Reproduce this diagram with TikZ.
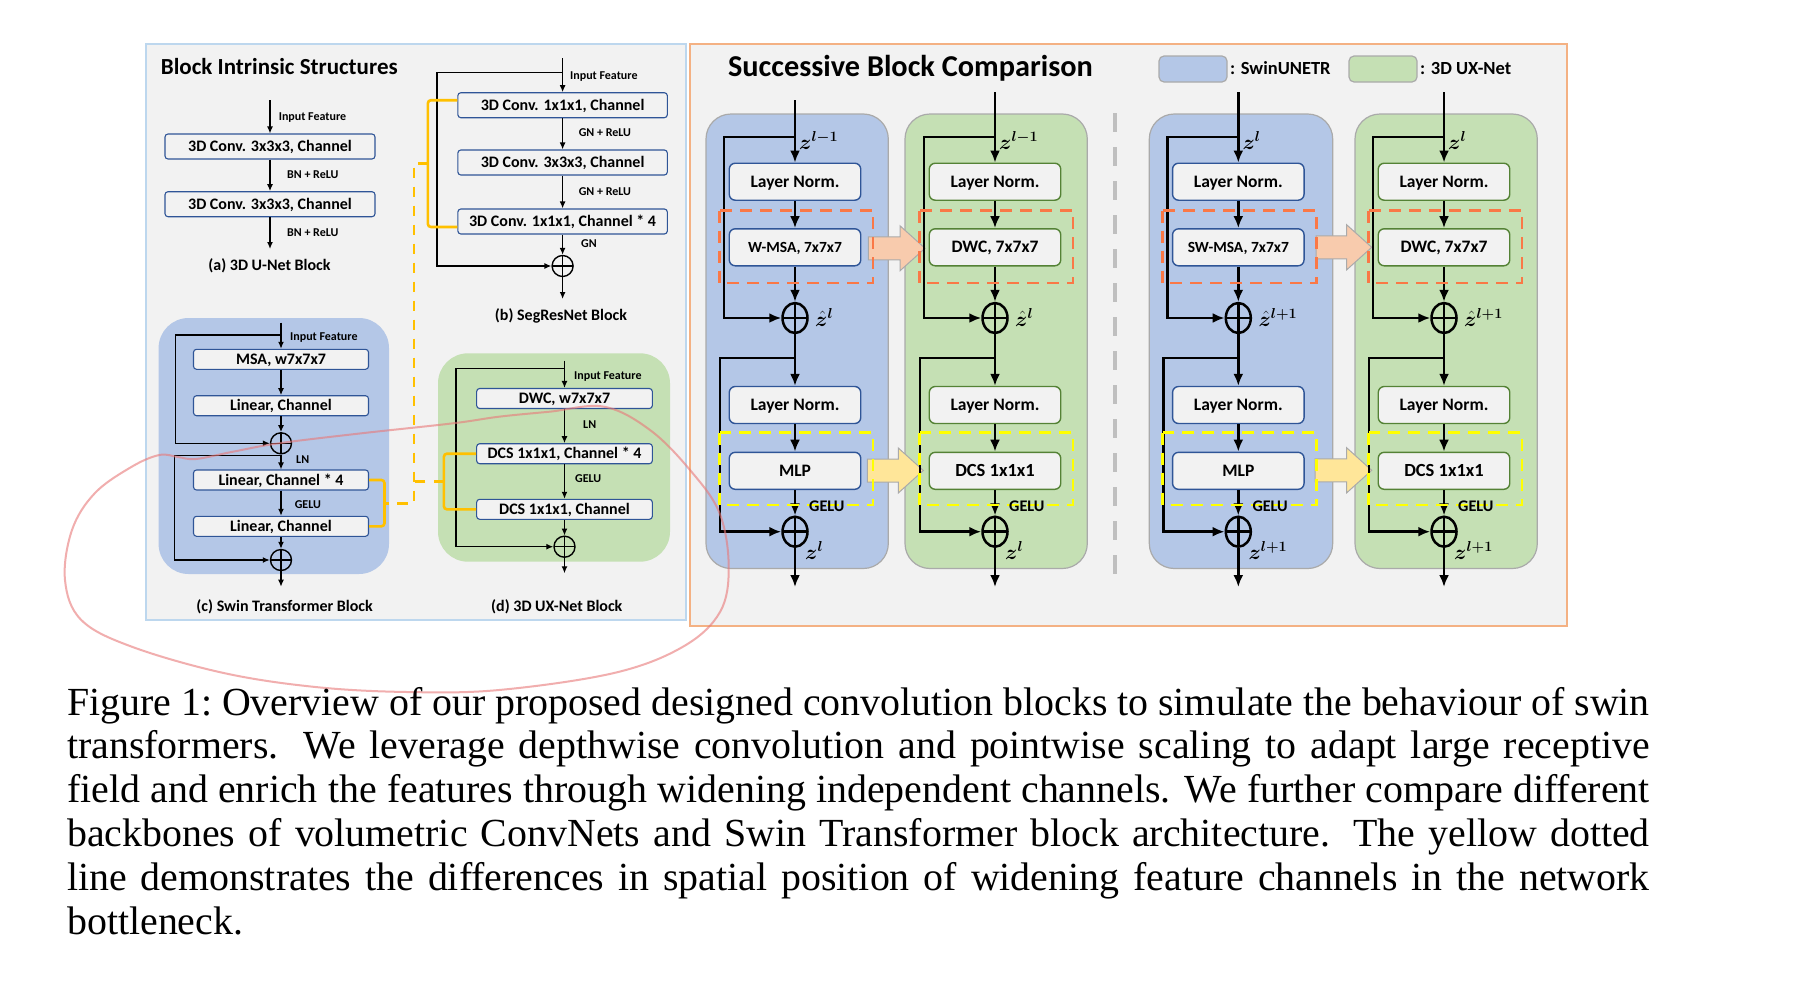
\documentclass[tikz,border=0pt]{standalone}
\usepackage{fontspec}
\usepackage{bm}
\newfontfamily\carl{Carlito}
\newfontfamily\timesf{Liberation Serif}
\usetikzlibrary{arrows.meta,shapes.geometric}

\definecolor{panelgray}{RGB}{242,242,242}
\definecolor{lpborder}{RGB}{189,215,238}
\definecolor{opborder}{RGB}{244,177,131}
\definecolor{blueblk}{RGB}{180,199,231}
\definecolor{greenblk}{RGB}{197,224,180}
\definecolor{blkborder}{RGB}{170,170,170}
\definecolor{boxblue}{RGB}{47,85,151}
\definecolor{boxgreen}{RGB}{84,130,53}
\definecolor{reddash}{RGB}{250,120,70}
\definecolor{yeldash}{RGB}{255,255,0}
\definecolor{peach}{RGB}{248,203,173}
\definecolor{lightyel}{RGB}{255,230,153}
\definecolor{bracketyel}{RGB}{255,192,0}
\definecolor{divgray}{RGB}{191,191,191}
\definecolor{scrib}{RGB}{232,120,120}

\tikzset{
  lbox/.style={draw=boxblue, line width=1.1pt, rounded corners=3pt, fill=panelgray, inner sep=0pt,
    text height=10.3pt, text depth=0pt, font=\carl\bfseries\fontsize{16}{18}\selectfont},
  rboxblue/.style={draw=boxblue, line width=1.4pt, rounded corners=6pt, fill=panelgray,
    minimum width=131.5pt, minimum height=37pt, inner sep=0pt, text height=11.3pt, text depth=0pt,
    font=\carl\bfseries\fontsize{17.5}{19}\selectfont},
  rboxgreen/.style={rboxblue, draw=boxgreen},
  smalllab/.style={anchor=west, inner sep=0pt, text height=7.7pt, text depth=0pt,
    font=\carl\bfseries\fontsize{12}{14}\selectfont},
  blklab/.style={inner sep=0pt, text height=10.3pt, text depth=0pt,
    font=\carl\bfseries\fontsize{16}{18}\selectfont},
  gelulab/.style={anchor=west, inner sep=0pt, text height=10.4pt, text depth=0pt,
    font=\carl\bfseries\fontsize{16.2}{18}\selectfont},
  zlab/.style={anchor=base west, inner sep=0pt, font=\fontsize{20.5}{22}\selectfont},
  larr/.style={line width=1.3pt, -{Latex[length=7pt,width=6pt]}},
  rarr/.style={line width=2.7pt, -{Latex[length=12pt,width=10pt]}},
  oplusl/.style={draw, circle, minimum size=21pt, inner sep=0pt, line width=1.4pt,
    path picture={\draw[line width=1.4pt] (path picture bounding box.north) -- (path picture bounding box.south)
      (path picture bounding box.west) -- (path picture bounding box.east);}},
  oplusr/.style={draw, ellipse, minimum width=25pt, minimum height=30pt, inner sep=0pt, line width=2.5pt,
    path picture={\draw[line width=2.5pt] (path picture bounding box.north) -- (path picture bounding box.south)
      (path picture bounding box.west) -- (path picture bounding box.east);}},
  blkbluebg/.style={fill=blueblk, draw=blkborder, line width=1.2pt, rounded corners=25pt},
  blkgreenbg/.style={fill=greenblk, draw=blkborder, line width=1.2pt, rounded corners=25pt},
  leftbluebg/.style={fill=blueblk, draw=none, rounded corners=30pt},
  leftgreenbg/.style={fill=greenblk, draw=none, rounded corners=30pt},
  reddashed/.style={draw=reddash, line width=2.8pt, dash pattern=on 12pt off 8pt},
  yeldashed/.style={draw=yeldash, line width=2.8pt, dash pattern=on 12pt off 8pt},
  bracket/.style={draw=bracketyel, line width=2.6pt, rounded corners=3pt},
  brdash/.style={draw=bracketyel, line width=2.6pt, dash pattern=on 10.5pt off 8.5pt},
  legbox/.style={draw=blkborder, line width=1.2pt, rounded corners=5pt, minimum width=68pt, minimum height=26pt, inner sep=0pt},
  legtext/.style={anchor=west, inner sep=0pt, text height=11.9pt, text depth=0pt,
    font=\carl\bfseries\fontsize{18.5}{20}\selectfont},
}

% successive-block column
\newcommand{\sbcol}[9]{%
  \coordinate (#1in) at (#2,#3);
  \coordinate (#1sa) at (#2,137);
  \coordinate (#1sb) at (#2,358);
  \coordinate (#1out) at (#2,587);
  \node[rbox#4] (#1na) at (#2,181.7) {Layer Norm.};
  \node[rbox#4] (#1nb) at (#2,247.3) {#5};
  \node[oplusr] (#1pa) at (#2,318) {};
  \node[rbox#4] (#1nc) at (#2,405) {Layer Norm.};
  \node[rbox#4] (#1nd) at (#2,470.8) {#6};
  \node[oplusr] (#1pb) at (#2,531.7) {};
  \draw[rarr] (#1in) -- (#1na);
  \draw[rarr] (#1na) -- (#1nb);
  \draw[rarr] (#1nb) -- (#1pa);
  \draw[rarr] (#1pa) -- (#1nc);
  \draw[rarr] (#1nc) -- (#1nd);
  \draw[rarr] (#1nd) -- (#1pb);
  \draw[rarr] (#1pb) -- (#1out);
  \draw[rarr] (#1sa) -- ++(-71,0) |- (#1pa);
  \draw[rarr] (#1sb) -- ++(-75,0) |- (#1pb);
  \draw[reddashed] ({#2-75.5},210.5) rectangle ({#2+78},283);
  \draw[yeldashed] ({#2-75.5},432.7) rectangle ({#2+78},505);
  \node[zlab] (#1za) at ({#2+4},149) {#7};
  \node[zlab] (#1zb) at ({#2+20},326) {#8};
  \node[gelulab] (#1g) at ({#2+14},506) {GELU};
  \node[zlab] (#1zc) at ({#2+10},559) {#9};
}

% block arrow: x-start, x-tip, y-center, colour
\newcommand{\barw}[4]{%
  \draw[fill=#4, draw=blkborder, line width=1pt] (#1,{#3-11.5}) -- ({#2-25},{#3-11.5}) -- ({#2-25},{#3-22.5})
    -- (#2,#3) -- ({#2-25},{#3+22.5}) -- ({#2-25},{#3+11.5}) -- (#1,{#3+11.5}) -- cycle;}

\begin{document}
\begin{tikzpicture}[x=1pt,y=-1pt]
\fill[white] (0,0) rectangle (1798,991);
\useasboundingbox (0,0) rectangle (1798,991);

% ---------------- panels ----------------
\draw[fill=panelgray, draw=lpborder, line width=1.6pt] (146,44) rectangle (686,620);
\draw[fill=panelgray, draw=opborder, line width=2pt] (690,43.5) rectangle (1567,625.7);

\node[anchor=base west, inner sep=0pt, font=\carl\bfseries\fontsize{23}{26}\selectfont] (t1) at (160.7,74) {Block Intrinsic Structures};
\node[anchor=base, inner sep=0pt, font=\carl\bfseries\fontsize{30.3}{33}\selectfont] (t2) at (910.5,76.7) {Successive Block Comparison};

% ---------------- (a) 3D U-Net ----------------
\coordinate (ain) at (270,100);
\coordinate (aout) at (270,249);
\node[lbox, minimum width=210pt, minimum height=25pt] (a1) at (270,146.5) {3D Conv. 3x3x3, Channel};
\node[lbox, minimum width=210pt, minimum height=25pt] (a2) at (270,204.2) {3D Conv. 3x3x3, Channel};
\draw[larr] (ain) -- (a1);
\draw[larr] (a1) -- (a2);
\draw[larr] (a2) -- (aout);
\node[smalllab] (ainl) at (278.6,116.7) {Input Feature};
\node[smalllab] (abn1) at (287,174.3) {BN + ReLU};
\node[smalllab] (abn2) at (287,232.7) {BN + ReLU};
\node[blklab] (alab) at (269.5,265) {(a) 3D U-Net Block};

% ---------------- (b) SegResNet ----------------
\coordinate (bin) at (562.6,58);
\coordinate (bs) at (562.6,72.3);
\coordinate (bout) at (562.6,299);
\node[lbox, minimum width=209.5pt, minimum height=25pt] (b1) at (562.6,105.2) {3D Conv. 1x1x1, Channel};
\node[lbox, minimum width=209.5pt, minimum height=25pt] (b2) at (562.6,162.5) {3D Conv. 3x3x3, Channel};
\node[lbox, minimum width=209.5pt, minimum height=25pt] (b3) at (562.6,221.5) {3D Conv. 1x1x1, Channel * 4};
\node[oplusl] (bp) at (562.6,266) {};
\draw[larr] (bin) -- (b1);
\draw[larr] (b1) -- (b2);
\draw[larr] (b2) -- (b3);
\draw[larr] (b3) -- (bp);
\draw[larr] (bp) -- (bout);
\draw[larr] (bs) -- ++(-125.6,0) |- (bp);
\node[smalllab] (binl) at (570,75.3) {Input Feature};
\node[smalllab] (bgn1) at (578.6,133) {GN + ReLU};
\node[smalllab] (bgn2) at (578.6,192) {GN + ReLU};
\node[smalllab] (bgn3) at (581,244) {GN};
\node[blklab] (blab) at (561,315) {(b) SegResNet Block};

% ---------------- (c) Swin Transformer ----------------
\path[leftbluebg] (158.6,318) rectangle (389,574);
\coordinate (cin) at (281,322.7);
\coordinate (csa) at (281,335);
\coordinate (csb) at (281,455.7);
\coordinate (cout) at (281,586.7);
\node[lbox, minimum width=175pt, minimum height=20pt] (c1) at (281,359.3) {MSA, w7x7x7};
\node[lbox, minimum width=175pt, minimum height=20pt] (c2) at (281,405.7) {Linear, Channel};
\node[oplusl] (cp1) at (281,443.3) {};
\node[lbox, minimum width=175pt, minimum height=20pt] (c3) at (281,480) {Linear, Channel * 4};
\node[lbox, minimum width=175pt, minimum height=20pt] (c4) at (281,526.3) {Linear, Channel};
\node[oplusl] (cp2) at (281,560) {};
\draw[larr] (cin) -- (c1);
\draw[larr] (c1) -- (c2);
\draw[larr] (c2) -- (cp1);
\draw[larr] (cp1) -- (c3);
\draw[larr] (c3) -- (c4);
\draw[larr] (c4) -- (cp2);
\draw[larr] (cp2) -- (cout);
\draw[larr] (csa) -- ++(-105.3,0) |- (cp1);
\draw[larr] (csb) -- ++(-106.4,0) |- (cp2);
\node[smalllab] (cinl) at (290,336.7) {Input Feature};
\node[smalllab] (cln) at (296,460) {LN};
\node[smalllab] (cgelu) at (294.6,505) {GELU};
\node[blklab] (clab) at (284.6,606) {(c) Swin Transformer Block};

% ---------------- (d) 3D UX-Net ----------------
\path[leftgreenbg] (438,353.3) rectangle (670,561.7);
\coordinate (din) at (564.5,360.7);
\coordinate (ds) at (564.5,368.3);
\coordinate (dout) at (564.5,573.3);
\node[lbox, minimum width=175.7pt, minimum height=20pt] (d1) at (564.5,398.5) {DWC, w7x7x7};
\node[lbox, minimum width=175.7pt, minimum height=20pt] (d2) at (564.5,453.7) {DCS 1x1x1, Channel * 4};
\node[lbox, minimum width=175.7pt, minimum height=20pt] (d3) at (564.5,509.3) {DCS 1x1x1, Channel};
\node[oplusl] (dp) at (564.5,546.7) {};
\draw[larr] (din) -- (d1);
\draw[larr] (d1) -- (d2);
\draw[larr] (d2) -- (d3);
\draw[larr] (d3) -- (dp);
\draw[larr] (dp) -- (dout);
\draw[larr] (ds) -- ++(-108.5,0) |- (dp);
\node[smalllab] (dinl) at (574,376) {Input Feature};
\node[smalllab] (dln) at (583,424.3) {LN};
\node[smalllab] (dgelu) at (575,478.3) {GELU};
\node[blklab] (dlab) at (556.8,606.7) {(d) 3D UX-Net Block};

% ---------------- yellow brackets ----------------
\draw[bracket] ([yshift=5pt]b1.west) -- ++(-29.4,0) |- ([yshift=-5.5pt]b3.west);
\coordinate (bbm) at (428.6,163.3);
\draw[bracket] (c3.east) -- ++(15.4,0) |- (c4.east);
\coordinate (cbm) at (384,503.2);
\draw[bracket] (d2.west) -- ++(-32.2,0) |- (d3.west);
\coordinate (dbm) at (444.3,481.5);
\coordinate (vx) at (414,481.5);
\draw[brdash] (bbm) -- (414,163.3) -- (414,503.2) -- (cbm);
\draw[brdash] (dbm) -- (vx);

% ---------------- legend ----------------
\node[legbox, fill=blueblk] (legb) at (1193,69) {};
\node[legtext] (legbt) at (1230,69) {: SwinUNETR};
\node[legbox, fill=greenblk] (legg) at (1383,69) {};
\node[legtext] (leggt) at (1420,69) {: 3D UX-Net};

% ---------------- successive blocks ----------------
\path[blkbluebg] (706,114) rectangle (888.3,568.5);
\path[blkgreenbg] (905,114) rectangle (1087.3,568.5);
\path[blkbluebg] (1149.3,114) rectangle (1332.7,568.5);
\path[blkgreenbg] (1355,114) rectangle (1537.3,568.5);
\draw[divgray, line width=4pt, dash pattern=on 19pt off 15pt] (1115,113.3) -- (1115,576.7);

\barw{868.3}{925}{248.3}{peach}
\barw{867.3}{923.3}{470.5}{lightyel}
\barw{1316}{1371.7}{247.3}{peach}
\barw{1315}{1371.7}{470.3}{lightyel}

\sbcol{sa}{795}{100}{blue}{{\fontsize{15.5}{17}\selectfont W-MSA, 7x7x7}}{MLP}{$\bm{z}^{\bm{l-1}}$}{$\hat{\bm{z}}^{\bm{l}}$}{$\bm{z}^{\bm{l}}$}
\sbcol{sb}{995}{92}{green}{DWC, 7x7x7}{{\fontsize{18.5}{20}\selectfont DCS 1x1x1}}{$\bm{z}^{\bm{l-1}}$}{$\hat{\bm{z}}^{\bm{l}}$}{$\bm{z}^{\bm{l}}$}
\sbcol{sc}{1238.3}{92}{blue}{{\fontsize{15.5}{17}\selectfont SW-MSA, 7x7x7}}{MLP}{$\bm{z}^{\bm{l}}$}{$\hat{\bm{z}}^{\bm{l+1}}$}{$\bm{z}^{\bm{l+1}}$}
\sbcol{sd}{1444}{92}{green}{DWC, 7x7x7}{{\fontsize{18.5}{20}\selectfont DCS 1x1x1}}{$\bm{z}^{\bm{l}}$}{$\hat{\bm{z}}^{\bm{l+1}}$}{$\bm{z}^{\bm{l+1}}$}

% ---------------- freehand red loop ----------------
\draw[scrib, opacity=0.6, line width=2pt] plot[smooth cycle, tension=0.6] coordinates {
 (549.6,411.7) (604,406.7) (650,430) (690,470) (719.5,513) (728.7,566.7) (720,612) (683,646.7)
 (614,673) (499,690) (407,692) (315.5,687) (223.7,673) (131.8,646.7) (81.3,620) (65,580) (72,530)
 (95,493) (131.8,466.7) (159.4,455) (178,457) (196,459) (233,451.7) (278.7,443.3) (361.4,433.3)
 (453,423.3) (499,416.7)};

% ---------------- caption ----------------
\node[anchor=base west, inner sep=0pt, text width=1582.5pt, align=justify,
  font=\timesf\fontsize{39.86}{43.85}\selectfont] (cap) at (67,715) {\hyphenpenalty=10000\emergencystretch=20pt\sfcode`\:=1000
Figure 1: Overview of our proposed designed convolution blocks to simulate the behaviour of swin\linebreak
transformers.  We leverage depthwise convolution and pointwise scaling to adapt large receptive\linebreak
field and enrich the features through widening independent channels. We further compare different\linebreak
backbones of volumetric ConvNets and Swin Transformer block architecture.  The yellow dotted\linebreak
line demonstrates the differences in spatial position of widening feature channels in the network\linebreak
bottleneck.};
\end{tikzpicture}
\end{document}
